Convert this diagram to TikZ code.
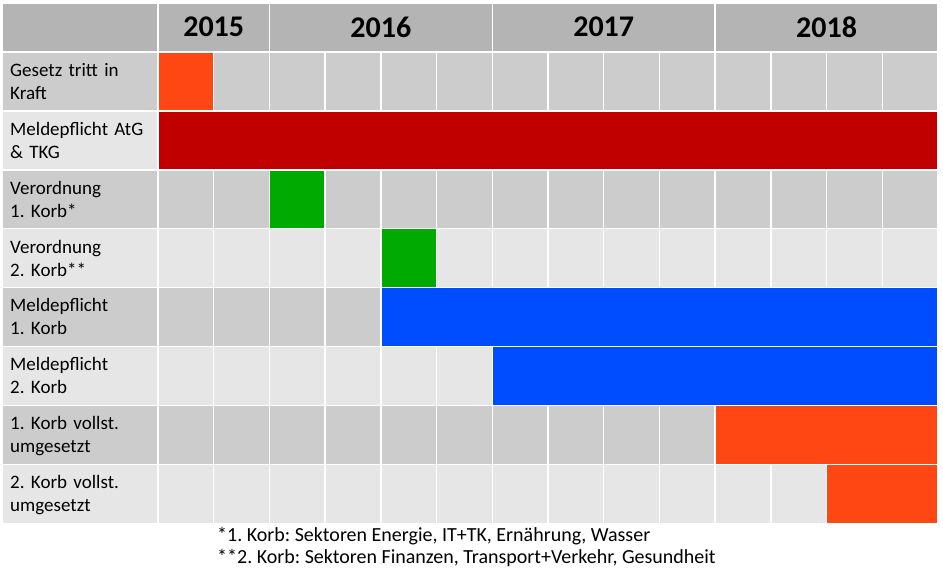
\documentclass[tikz,border=0pt]{standalone}
\usepackage{fontspec}
\setmainfont{Carlito}
\frenchspacing
\definecolor{headgrey}{HTML}{B4B4B4}
\definecolor{darkrow}{HTML}{CCCCCC}
\definecolor{lightrow}{HTML}{E6E6E6}
\definecolor{barorange}{HTML}{FF4713}
\definecolor{barred}{HTML}{C00000}
\definecolor{bargreen}{HTML}{00AA00}
\definecolor{barblue}{HTML}{004DFF}

\begin{document}
\begin{tikzpicture}[
  x=1pt, y=-1pt,
  cell/.style={fill=#1, draw=white, line width=1.4pt},
  rowlabel/.style={
    anchor=north west, inner sep=0pt, text width=145pt, align=left,
    font=\fontsize{19}{23}\selectfont
  },
  year/.style={font=\fontsize{30}{34}\selectfont\bfseries},
  note/.style={anchor=base west, inner sep=0pt, font=\fontsize{20}{24}\selectfont}
]
\useasboundingbox[fill=white] (0,0) rectangle (943,568);

% header row
\draw[cell=headgrey] (2,3) rectangle (158,52);
\draw[cell=headgrey] (158,3) rectangle (269.4,52);
\draw[cell=headgrey] (269.4,3) rectangle (492.3,52);
\draw[cell=headgrey] (492.3,3) rectangle (715.1,52);
\draw[cell=headgrey] (715.1,3) rectangle (938,52);
\node[year] (y2015) at (213.7,27) {2015};
\node[year] (y2016) at (380.9,27) {2016};
\node[year] (y2017) at (603.7,27) {2017};
\node[year] (y2018) at (826.6,27) {2018};

% rows with quarter cells
\foreach \r/\shade/\txt in {
    0/darkrow/{Gesetz tritt in\\Kraft},
    1/lightrow/{Meldepflicht AtG\\\& TKG},
    2/darkrow/{Verordnung\\1. Korb*},
    3/lightrow/{Verordnung\\2. Korb**},
    4/darkrow/{Meldepflicht\\1. Korb},
    5/lightrow/{Meldepflicht\\2. Korb},
    6/darkrow/{1. Korb vollst.\\umgesetzt},
    7/lightrow/{2. Korb vollst.\\umgesetzt}} {
  \draw[cell=\shade] (2,{52+\r*58.9}) rectangle (158,{52+(\r+1)*58.9});
  \node[rowlabel] (lab\r) at (10,{52+\r*58.9+8}) {\strut\txt};
  \foreach \c in {0,...,13}
    \draw[cell=\shade] ({158+\c*55.714},{52+\r*58.9})
      rectangle ({158+(\c+1)*55.714},{52+(\r+1)*58.9});
}

% bars
\foreach \r/\from/\to/\col in {0/0/1/barorange, 1/0/14/barred,
    2/2/3/bargreen, 3/4/5/bargreen, 4/4/14/barblue, 5/6/14/barblue,
    6/10/14/barorange, 7/12/14/barorange}
  \draw[cell=\col] ({158+\from*55.714},{52+\r*58.9})
    rectangle ({158+\to*55.714},{52+(\r+1)*58.9});

% footnotes
\node[note] (note1) at (217,541) {*1. Korb: Sektoren Energie, IT+TK, Ernährung, Wasser};
\node[note] (note2) at (217,563) {**2. Korb: Sektoren Finanzen, Transport+Verkehr, Gesundheit};
\end{tikzpicture}
\end{document}
